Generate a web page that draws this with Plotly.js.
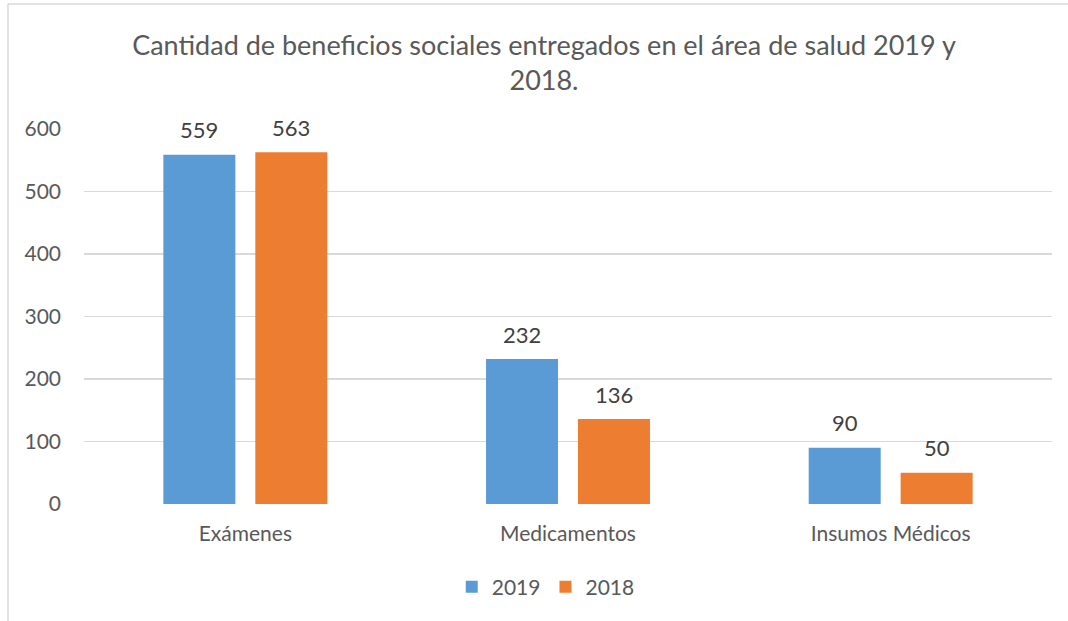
<!DOCTYPE html>
<html>
<head>
<meta charset="utf-8">
<script src="https://cdn.plot.ly/plotly-3.0.1.min.js"></script>
<style>
html,body{margin:0;padding:0;background:#fff;}
#chart{width:1068px;height:621px;}
</style>
</head>
<body>
<div id="chart"></div>
<script>
const categories = ["Exámenes", "Medicamentos", "Insumos Médicos"];
const series2019 = [559, 232, 90];
const series2018 = [563, 136, 50];
const seriesNames = ["2019", "2018"];
const yTicks = [0, 100, 200, 300, 400, 500, 600];

const FONT = "Lato, 'Open Sans', sans-serif";
const colors = ["#5B9BD5", "#ED7D31"];

const traces = [series2019, series2018].map((vals, i) => ({
  type: "bar",
  name: seriesNames[i],
  x: categories,
  y: vals,
  marker: {color: colors[i]},
  hoverinfo: "x+y+name"
}));

const annotations = [];
[series2019, series2018].forEach((vals, i) => {
  vals.forEach((v, j) => {
    annotations.push({
      x: categories[j], y: v, xref: "x", yref: "y",
      text: String(v), showarrow: false,
      xshift: i === 0 ? -46 : 46, yshift: 25, yanchor: "middle",
      font: {family: FONT, size: 22, color: "#404040"}
    });
  });
});

const layout = {
  width: 1068, height: 621,
  paper_bgcolor: "#ffffff", plot_bgcolor: "#ffffff",
  margin: {l: 84, r: 16, t: 129, b: 117, pad: 0},
  font: {family: FONT, color: "#595959"},
  title: {
    text: "Cantidad de beneficios sociales entregados en el área de salud 2019 y<br>2018.",
    font: {family: FONT, size: 27, color: "#595959"},
    x: 544 / 1068, xanchor: "center", xref: "container",
    y: 1 - 55 / 621, yanchor: "middle", yref: "container"
  },
  barmode: "group",
  bargap: 0.43,
  bargroupgap: 0.217,
  xaxis: {
    tickfont: {family: FONT, size: 21, color: "#595959"},
    showgrid: false, zeroline: false, showline: false,
    ticks: "", ticklabelstandoff: 15, fixedrange: true
  },
  yaxis: {
    range: [0, 600],
    tickvals: yTicks,
    ticktext: yTicks.map(String),
    tickfont: {family: FONT, size: 21, color: "#595959"},
    showgrid: true, gridcolor: "#d9d9d9", gridwidth: 1.5,
    zeroline: false, showline: false, ticks: "",
    ticklabelstandoff: 22, fixedrange: true
  },
  showlegend: true,
  legend: {
    orientation: "h", x: 0.477, xanchor: "center",
    y: (504 - 587) / 375, yanchor: "middle",
    font: {family: FONT, size: 21, color: "#595959"},
    itemwidth: 16, traceorder: "normal"
  },
  annotations: annotations,
  shapes: [
    {type: "line", xref: "paper", yref: "paper",
     x0: (8 - 84) / 968, x1: (8 - 84) / 968, y0: (504 - 4) / 375, y1: (504 - 625) / 375,
     line: {color: "#d9d9d9", width: 1.5}},
    {type: "line", xref: "paper", yref: "paper",
     x0: (8 - 84) / 968, x1: (1070 - 84) / 968, y0: (504 - 4) / 375, y1: (504 - 4) / 375,
     line: {color: "#d9d9d9", width: 1.5}}
  ]
};

Plotly.newPlot("chart", traces, layout, {displayModeBar: false, staticPlot: true});
</script>
</body>
</html>
